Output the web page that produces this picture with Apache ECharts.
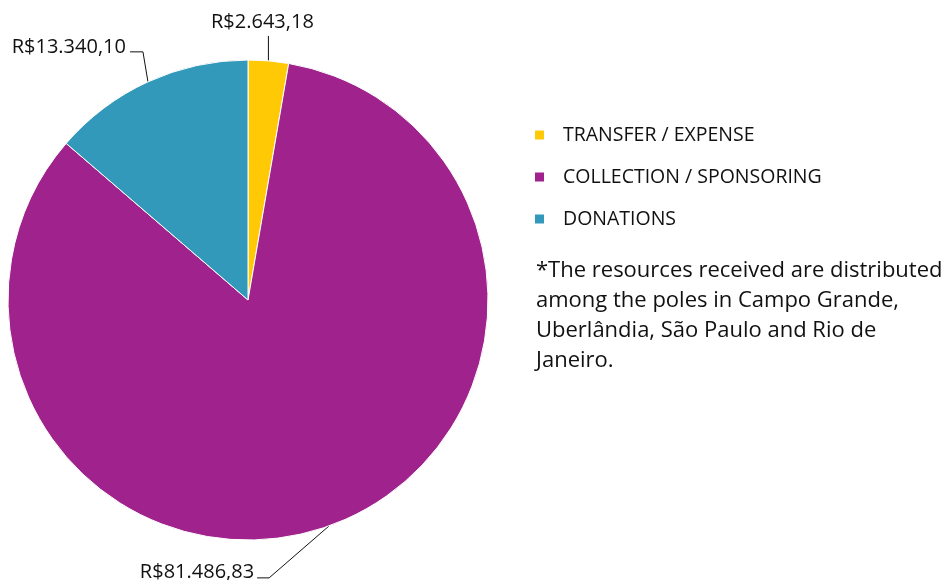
<!DOCTYPE html>
<html>
<head>
<meta charset="utf-8">
<script src="https://cdn.jsdelivr.net/npm/echarts@6/dist/echarts.min.js"></script>
<style>
html, body { margin: 0; padding: 0; background: #fff; }
#main { width: 949px; height: 580px; }
</style>
</head>
<body>
<div id="main"></div>
<script>
var categories = ['TRANSFER / EXPENSE', 'COLLECTION / SPONSORING', 'DONATIONS'];
var values = [2643.18, 81486.83, 13340.10];
var valueLabels = ['R$2.643,18', 'R$81.486,83', 'R$13.340,10'];
var colors = ['#FFC905', '#A0228C', '#3399BB'];
var note = '*The resources received are distributed\namong the poles in Campo Grande,\nUberlândia, São Paulo and Rio de\nJaneiro.';

var font = '"Open Sans", Lato, sans-serif';

var chart = echarts.init(document.getElementById('main'));

var pieData = [];
for (var i = 0; i < values.length; i++) {
    pieData.push({ name: categories[i], value: values[i], itemStyle: { color: colors[i] } });
}

// where each label goes, relative to the point where its line leaves the slice
var labelShift = [
    { lx: 0, ly: -25, hx: 0, tx: -6, ty: -39, align: 'center' },
    { lx: -60, ly: 52, hx: -12, tx: -75, ty: 46, align: 'right' },
    { lx: -5, ly: -30, hx: -13, tx: -22, ty: -35, align: 'right' }
];

var option = {
    animation: false,
    legend: {
        orient: 'vertical',
        left: 533,
        top: 125,
        padding: 0,
        itemWidth: 11,
        itemHeight: 11,
        itemGap: 22,
        icon: 'rect',
        selectedMode: false,
        textStyle: {
            fontFamily: font,
            fontSize: 19.5,
            lineHeight: 20,
            color: '#111',
            padding: [0, 0, 0, 13]
        },
        data: categories
    },
    graphic: [{
        type: 'text',
        left: 536,
        top: 256,
        style: {
            text: note,
            fontFamily: font,
            fontSize: 22,
            lineHeight: 30,
            fill: '#111'
        }
    }],
    series: [{
        type: 'pie',
        center: [248, 300],
        radius: 240,
        startAngle: 90,
        clockwise: true,
        itemStyle: { borderColor: '#fff', borderWidth: 1 },
        label: {
            show: true,
            position: 'outside',
            fontFamily: font,
            fontSize: 20,
            color: '#111',
            formatter: function (p) { return valueLabels[p.dataIndex]; }
        },
        labelLine: {
            show: true,
            length: 20,
            length2: 10,
            lineStyle: { color: '#111', width: 1 }
        },
        emphasis: { disabled: true },
        labelLayout: function (p) {
            var s = labelShift[p.dataIndex];
            var start = p.labelLinePoints[0];
            var bend = [start[0] + s.lx, start[1] + s.ly];
            var end = [bend[0] + s.hx, bend[1]];
            return {
                x: start[0] + s.tx,
                y: start[1] + s.ty,
                align: s.align,
                verticalAlign: 'middle',
                labelLinePoints: [start, bend, end]
            };
        },
        data: pieData
    }]
};

chart.setOption(option);
</script>
</body>
</html>
